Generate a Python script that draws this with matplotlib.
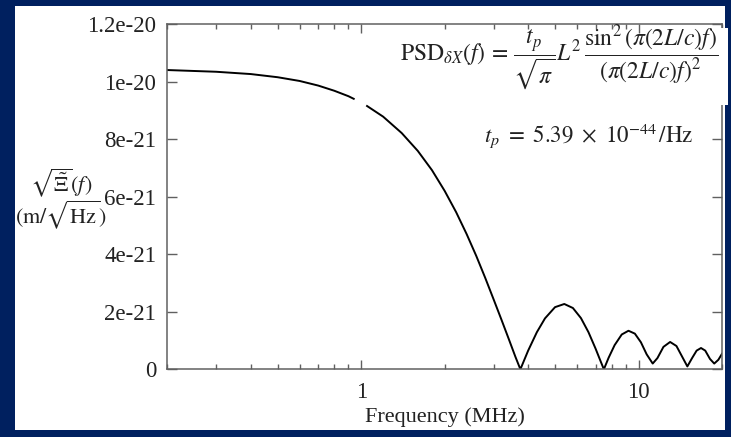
import numpy as np
import matplotlib
matplotlib.use("Agg")
import matplotlib.pyplot as plt
import matplotlib.patches as patches
from matplotlib.ticker import FixedLocator, FixedFormatter, LogLocator, NullFormatter

plt.rcParams['font.family'] = ['Liberation Serif', 'DejaVu Serif']
plt.rcParams['mathtext.fontset'] = 'stix'

# curve: frequency (MHz) and sqrt-PSD (units of 1e-21 m/sqrt(Hz))
# NaN = the small break in the trace just below 1 MHz
freq_mhz = [0.2, 0.3, 0.4, 0.5, 0.6, 0.7, 0.8, 0.9, 0.94, 0.99, 1.05,
            1.2, 1.4, 1.6, 1.8, 2.0, 2.2, 2.4, 2.6, 2.8, 3.0, 3.2, 3.4, 3.6, 3.75,
            4.0, 4.3, 4.6, 5.0, 5.4, 5.8, 6.2, 6.6, 7.0, 7.3, 7.5,
            7.8, 8.2, 8.7, 9.2, 9.7, 10.2, 10.7, 11.25,
            11.7, 12.3, 13.0, 13.7, 14.4, 15.0,
            15.6, 16.2, 16.8, 17.4, 18.1, 18.75, 19.4, 20.0]
asd_e21 = [10.40, 10.34, 10.26, 10.15, 10.02, 9.86, 9.68, 9.49, 9.40, np.nan, 9.15,
           8.78, 8.21, 7.59, 6.92, 6.20, 5.46, 4.70, 3.94, 3.18, 2.44, 1.74, 1.07, 0.43, 0.0,
           0.65, 1.29, 1.77, 2.16, 2.27, 2.13, 1.78, 1.29, 0.72, 0.28, 0.0,
           0.40, 0.84, 1.21, 1.34, 1.24, 0.94, 0.52, 0.20,
           0.39, 0.78, 0.95, 0.81, 0.42, 0.10,
           0.39, 0.65, 0.74, 0.65, 0.36, 0.20, 0.33, 0.54]

y_ticks = [0, 2e-21, 4e-21, 6e-21, 8e-21, 1e-20, 1.2e-20]
y_tick_labels = ['0', '2e-21', '4e-21', '6e-21', '8e-21', '1e-20', '1.2e-20']
x_ticks = [1, 10]
x_tick_labels = ['1', '10']

navy = '#00205f'
edge = '#606060'
ink = '#222222'

fig = plt.figure(figsize=(7.31, 4.37), dpi=100, facecolor=navy)
# white slide panel behind the axes
fig.patches.append(patches.Rectangle((15 / 731, 1 - 430 / 437), 710 / 731, 424 / 437,
                                     transform=fig.transFigure, facecolor='white',
                                     edgecolor='none', zorder=-5))

ax = fig.add_axes([0.2289, 0.1549, 0.9877 - 0.2289, 0.9451 - 0.1549])
ax.set_facecolor('white')

ax.plot(freq_mhz, np.array(asd_e21) * 1e-21, color='black', lw=1.4, zorder=2)

ax.set_xscale('log')
ax.set_xlim(0.2, 20)
ax.set_ylim(0, 1.2e-20)

ax.xaxis.set_major_locator(FixedLocator(x_ticks))
ax.xaxis.set_major_formatter(FixedFormatter(x_tick_labels))
ax.xaxis.set_minor_locator(LogLocator(base=10, subs=np.arange(2, 10)))
ax.xaxis.set_minor_formatter(NullFormatter())
ax.yaxis.set_major_locator(FixedLocator(y_ticks))
ax.yaxis.set_major_formatter(FixedFormatter(y_tick_labels))

ax.tick_params(which='both', direction='in', top=True, right=True, colors=edge,
               labelcolor=ink, labelsize=16.5)
ax.tick_params(axis='x', which='major', length=6.5, width=1, pad=9)
ax.tick_params(axis='x', which='minor', length=3.3, width=1)
ax.tick_params(axis='y', which='major', length=7.2, width=1, pad=8)
for s in ax.spines.values():
    s.set_color(edge)
    s.set_linewidth(1.1)

ax.set_xlabel('Frequency (MHz)', fontsize=16, color=ink, labelpad=3)

# the pasted formula hides the top of the right frame
ax.add_patch(patches.Rectangle((0.96, 0.765), 0.05, 0.222, transform=ax.transAxes,
                               facecolor='white', edgecolor='none', zorder=2.8,
                               clip_on=False))

ax.text(0.993, 0.902,
        r'$\mathrm{PSD}_{\delta X}(f)\,=\,\dfrac{t_p}{\sqrt{\pi}}L^2\,'
        r'\dfrac{\sin^2(\pi(2L/c)f)}{(\pi(2L/c)f)^2}$',
        transform=ax.transAxes, ha='right', va='center', fontsize=17, color=ink,
        zorder=3)
ax.text(0.948, 0.676, r'$t_p\ =\ 5.39\ \times\ 10^{-44}\,/\mathrm{Hz}$',
        transform=ax.transAxes, ha='right', va='center', fontsize=16.5, color=ink)

fig.text(61 / 731, 1 - 183 / 437, r'$\sqrt{\tilde{\Xi}}(f)$', ha='center', va='center',
         fontsize=16, color=ink)
fig.text(61 / 731, 1 - 215 / 437, r'$(\mathrm{m}/\sqrt{\mathrm{Hz}})$', ha='center',
         va='center', fontsize=16, color=ink)

fig.savefig('out.png', dpi=100, facecolor=navy)
